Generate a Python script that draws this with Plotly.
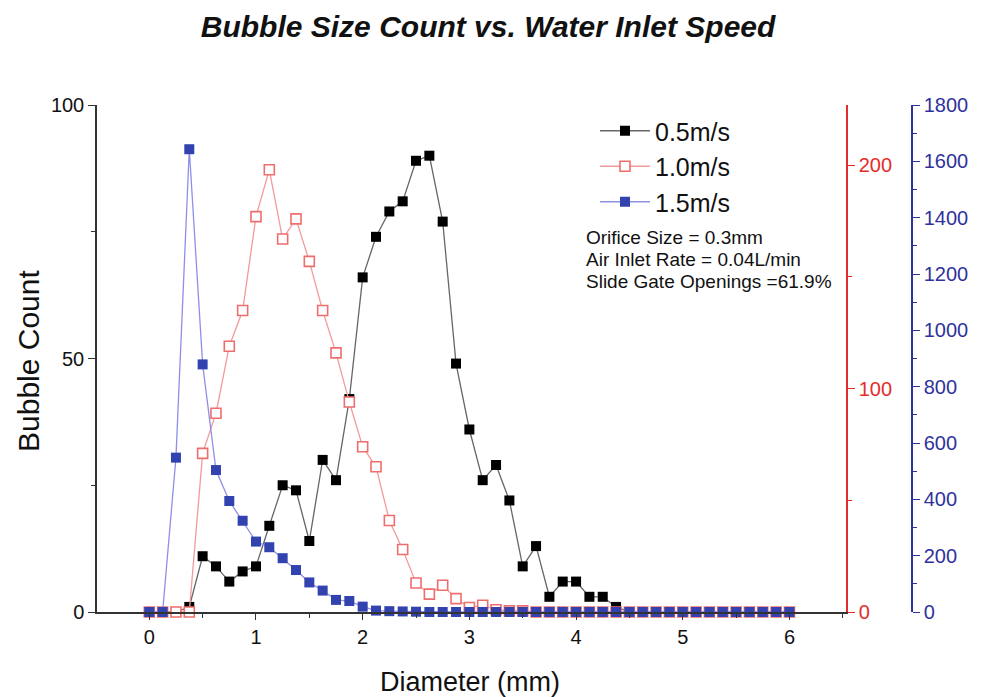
import plotly.graph_objects as go

diameter = [i * 0.125 for i in range(49)]

count_05 = [0, 0, 0, 1, 11, 9, 6, 8, 9, 17, 25, 24, 14, 30, 26, 42, 66, 74, 79, 81,
            89, 90, 77, 49, 36, 26, 29, 22, 9, 13, 3, 6, 6, 3, 3, 1,
            0, 0, 0, 0, 0, 0, 0, 0, 0, 0, 0, 0, 0]
count_10 = [0, 0, 0, 0, 71, 89, 119, 135, 177, 198, 167, 176, 157, 135, 116, 94, 74, 65, 41, 28,
            13, 8, 12, 6, 2, 3, 1, 0.5, 0.5, 0, 0, 0, 0, 0, 0, 0,
            0, 0, 0, 0, 0, 0, 0, 0, 0, 0, 0, 0, 0]
count_15 = [0, 0, 548, 1643, 879, 504, 394, 324, 250, 230, 191, 149, 105, 76, 43, 39, 19, 5, 3, 2,
            1, 0, 0, 0, 0, 0, 0, 0, 0, 0, 0, 0, 0, 0, 0, 0,
            0, 0, 0, 0, 0, 0, 0, 0, 0, 0, 0, 0, 0]

names = ["0.5m/s", "1.0m/s", "1.5m/s"]
note_lines = ["Orifice Size = 0.3mm", "Air Inlet Rate = 0.04L/min", "Slide Gate Openings =61.9%"]
x_title = "Diameter (mm)"
y_title = "Bubble Count"

FONT = "Liberation Sans, Arial, sans-serif"
RED = "#e52b2b"
BLUE = "#2f329c"

PX_W = 912 - 97   # paper width in px
PX_H = 612 - 105  # paper height in px

fig = go.Figure()

fig.add_trace(go.Scatter(
    x=diameter, y=count_10, name=names[1], yaxis="y2", mode="lines+markers",
    line=dict(color="#f39a9a", width=1.3),
    marker=dict(symbol="square", size=10, color="white", line=dict(color="#ee6e6e", width=1.6)),
    cliponaxis=False, legendrank=2))
fig.add_trace(go.Scatter(
    x=diameter, y=count_05, name=names[0], yaxis="y", mode="lines+markers",
    line=dict(color="#666666", width=1.3),
    marker=dict(symbol="square", size=10, color="black", line=dict(width=0)),
    cliponaxis=False, legendrank=1))
fig.add_trace(go.Scatter(
    x=diameter, y=count_15, name=names[2], yaxis="y3", mode="lines+markers",
    line=dict(color="#8f8fe6", width=1.3),
    marker=dict(symbol="square", size=10, color="#3243b0", line=dict(width=0)),
    cliponaxis=False, legendrank=3))

xdom_end = (846 - 97) / PX_W

fig.update_layout(
    width=990, height=697,
    margin=dict(l=97, r=78, t=105, b=85, autoexpand=False),
    paper_bgcolor="white", plot_bgcolor="white",
    font=dict(family=FONT, size=20, color="#111111"),
    title=dict(text="<b><i>Bubble Size Count vs. Water Inlet Speed</i></b>",
               x=0.493, xanchor="center", y=0.962, yanchor="middle",
               font=dict(size=30, family=FONT, color="#111111")),
    showlegend=True,
    legend=dict(x=(595 - 97) / PX_W, xref="paper", y=(612 - 108) / PX_H, yanchor="top",
                xanchor="left", bgcolor="rgba(0,0,0,0)",
                font=dict(size=25, family=FONT, color="#111111"),
                tracegroupgap=0, itemwidth=50),
    xaxis=dict(domain=[0, xdom_end], range=[-0.49, 6.53], tickvals=[0, 1, 2, 3, 4, 5, 6],
               automargin=False,
               showline=True, linecolor="#333333", linewidth=1.5, ticks="outside",
               ticklen=6, tickcolor="#333333", showgrid=False, zeroline=False,
               minor=dict(dtick=0.5, tick0=0, ticks="outside", ticklen=4, tickcolor="#333333")),
    yaxis=dict(range=[0, 100], tickvals=[0, 50, 100], showline=True, linecolor="#333333",
               automargin=False,
               linewidth=1.5, ticks="outside", ticklen=7, tickcolor="#333333",
               showgrid=False, zeroline=False,
               minor=dict(dtick=25, tick0=0, ticks="outside", ticklen=4, tickcolor="#333333")),
    yaxis2=dict(range=[0, 227], tickvals=[0, 100, 200], overlaying="y", side="right",
                anchor="x", showline=True, linecolor=RED, linewidth=1.5, ticks="outside",
                automargin=False,
                ticklen=7, tickcolor=RED, tickfont=dict(color=RED, size=20),
                showgrid=False, zeroline=False,
                minor=dict(dtick=50, tick0=0, ticks="outside", ticklen=4, tickcolor=RED)),
    yaxis3=dict(range=[0, 1800], dtick=200, overlaying="y", side="right",
                anchor="free", position=1.0, showline=True, linecolor=BLUE, linewidth=1.5,
                automargin=False,
                ticks="outside", ticklen=7, tickcolor=BLUE, tickfont=dict(color=BLUE, size=20),
                showgrid=False, zeroline=False,
                minor=dict(dtick=100, tick0=0, ticks="outside", ticklen=4, tickcolor=BLUE)),
)

for k, line in enumerate(note_lines):
    fig.add_annotation(
        text=line, xref="paper", yref="paper",
        x=(584 - 97) / PX_W, y=(612 - (237 + 22 * k)) / PX_H, xanchor="left", yanchor="middle",
        align="left", showarrow=False, font=dict(size=19, family=FONT, color="#111111"))

fig.add_annotation(
    text=x_title, xref="paper", yref="paper", x=(470 - 97) / PX_W, y=(612 - 682) / PX_H,
    xanchor="center", yanchor="middle", showarrow=False,
    font=dict(size=27, family=FONT, color="#111111"))
fig.add_annotation(
    text=y_title, xref="paper", yref="paper", x=(28 - 97) / PX_W, y=(612 - 361) / PX_H,
    xanchor="center", yanchor="middle", textangle=-90, showarrow=False,
    font=dict(size=30, family=FONT, color="#111111"))

fig.write_html("out.html")
